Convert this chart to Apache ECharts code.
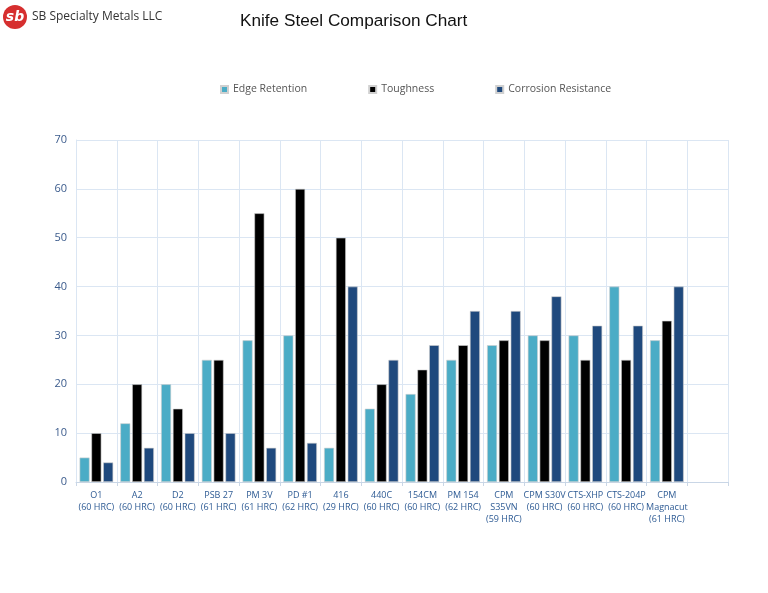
<!DOCTYPE html>
<html><head><meta charset="utf-8">
<script src="https://cdn.jsdelivr.net/npm/echarts@6/dist/echarts.min.js"></script>
<style>html,body{margin:0;padding:0;background:#fff}#c{width:768px;height:593px}</style>
</head><body><div id="c"></div>
<script>
const categories = ['O1\n(60 HRC)','A2\n(60 HRC)','D2\n(60 HRC)','PSB 27\n(61 HRC)','PM 3V\n(61 HRC)','PD #1\n(62 HRC)','416\n(29 HRC)','440C\n(60 HRC)','154CM\n(60 HRC)','PM 154\n(62 HRC)','CPM\nS35VN\n(59 HRC)','CPM S30V\n(60 HRC)','CTS-XHP\n(60 HRC)','CTS-204P\n(60 HRC)','CPM\nMagnacut\n(61 HRC)',''];
const edgeRetention = [5,12,20,25,29,30,7,15,18,25,28,30,30,40,29,null];
const toughness = [10,20,15,25,55,60,50,20,23,28,29,29,25,25,33,null];
const corrosionResistance = [4,7,10,10,7,8,40,25,28,35,35,38,32,32,40,null];
const yTicks = [0,10,20,30,40,50,60,70];

const chart = echarts.init(document.getElementById('c'));
const barStyle = (c)=>({color:c,borderColor:'#d0d0d0',borderWidth:0.6});
chart.setOption({
  animation:false,
  textStyle:{fontFamily:'"Open Sans", "DejaVu Sans", sans-serif'},
  title:{text:'Knife Steel Comparison Chart',left:235,top:8,
    textStyle:{fontSize:17.2,fontWeight:'normal',color:'#111',fontFamily:'Arial, "Liberation Sans", sans-serif'}},
  graphic:[
    {type:'circle',shape:{cx:15,cy:17,r:12},style:{fill:'#d62f2f'}},
    {type:'text',x:15,y:17,style:{text:'sb',fill:'#fff',font:'italic bold 14px "DejaVu Sans", sans-serif',textAlign:'center',textVerticalAlign:'middle'}},
    {type:'text',x:32,y:17,style:{text:'SB Specialty Metals LLC',fill:'#333',font:'12px "Open Sans", "DejaVu Sans", sans-serif',textVerticalAlign:'middle'}}
  ],
  legend:{top:79,left:215,itemWidth:7,itemHeight:7,itemGap:61,icon:'rect',
    textStyle:{fontSize:10.5,color:'#555'},
    data:['Edge Retention','Toughness','Corrosion Resistance']},
  grid:{left:76,right:40,top:140,bottom:111,containLabel:false},
  xAxis:{type:'category',data:categories,
    axisLine:{lineStyle:{color:'#c9d6e6'}},
    axisTick:{show:true,length:4,lineStyle:{color:'#c9d6e6'}},
    splitLine:{show:true,lineStyle:{color:'#dbe6f3'}},
    axisLabel:{interval:0,fontSize:9,color:'#2e5b94',lineHeight:12,margin:7}},
  yAxis:{type:'value',min:0,max:70,interval:10,
    axisLine:{show:true,lineStyle:{color:'#dbe6f3'}},
    splitLine:{lineStyle:{color:'#dbe6f3'}},
    axisLabel:{fontSize:11,color:'#3b5b8c',margin:9,
      formatter:v=>yTicks.includes(v)?String(v):''}},
  series:[
    {name:'Edge Retention',type:'bar',data:edgeRetention,barWidth:10,barGap:'18%',itemStyle:barStyle('#4bacc6')},
    {name:'Toughness',type:'bar',data:toughness,barWidth:10,barGap:'18%',itemStyle:barStyle('#000000')},
    {name:'Corrosion Resistance',type:'bar',data:corrosionResistance,barWidth:10,barGap:'18%',itemStyle:barStyle('#1f497d')}
  ]
});
</script></body></html>
